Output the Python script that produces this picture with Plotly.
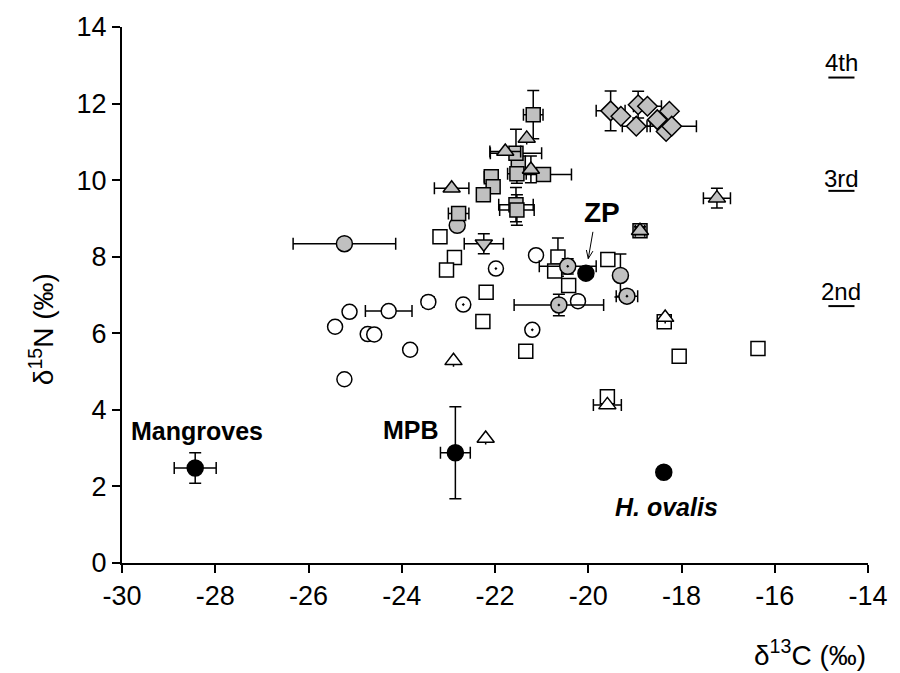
import math
import plotly.graph_objects as go

# ---------------- data ----------------
# open circles
oc_x = [-25.12, -25.43, -24.73, -24.59, -24.28, -25.23, -23.43, -23.82, -21.12, -20.22]
oc_y = [6.56, 6.17, 5.98, 5.97, 6.58, 4.80, 6.82, 5.57, 8.04, 6.84]
oc_ex = [None, None, None, None, 0.5, None, 0.12, None, None, None]
oc_ey = [None, None, None, None, None, None, 0.12, None, None, None]

# open circles with dot
od_x = [-21.98, -22.68, -21.20]
od_y = [7.69, 6.75, 6.09]

# grey circles with dot
gd_x = [-20.44, -20.63, -19.17]
gd_y = [7.75, 6.74, 6.97]
gd_ex = [0.61, 0.96, 0.23]
gd_ey = [0.20, 0.28, 0.15]

# grey circles
gc_x = [-25.23, -22.81, -19.31]
gc_y = [8.34, 8.82, 7.51]
gc_ex = [1.1, None, None]
gc_ey = [0.12, None, 0.56]

# open squares
os_x = [-23.18, -22.87, -23.04, -22.19, -22.26, -21.34, -20.65, -20.72, -20.42, -19.58, -18.37, -18.05, -16.36, -19.59]
os_y = [8.52, 7.98, 7.65, 7.07, 6.31, 5.53, 7.99, 7.63, 7.25, 7.93, 6.30, 5.40, 5.60, 4.34]
os_ey = [None, None, None, None, None, None, 0.5, None, None, None, None, None, None, 0.1]

# grey squares
gs_x = [-18.89, -21.50, -21.53, -20.96, -22.08, -22.04, -22.25, -22.78, -21.55, -21.53, -21.55, -21.18]
gs_y = [8.68, 10.45, 10.17, 10.15, 10.09, 9.83, 9.62, 9.13, 9.36, 9.22, 10.70, 11.71]
gs_ex = [0.1, None, 0.2, 0.6, 0.15, None, None, 0.22, 0.37, 0.37, 0.55, 0.21]
gs_ey = [0.1, None, 0.25, None, None, None, 0.1, None, 0.45, 0.4, 0.63, 0.63]

# grey triangles (up)
gt_x = [-21.32, -21.78, -21.23, -22.93, -18.89, -17.24]
gt_y = [11.09, 10.75, 10.28, 9.79, 8.68, 9.53]
gt_ex = [None, 0.33, None, 0.37, 0.1, 0.29]
gt_ey = [None, None, 0.35, None, 0.1, 0.26]

# grey triangle (down)
gv_x = [-22.24]
gv_y = [8.34]
gv_ex = [0.42]
gv_ey = [0.26]

# open triangles
ot_x = [-22.89, -22.20, -19.59, -18.35]
ot_y = [5.28, 3.25, 4.13, 6.41]
ot_ex = [None, None, 0.3, None]

# grey diamonds
dm_x = [-18.33, -19.52, -19.30, -18.93, -18.73, -18.97, -18.52, -18.26, -18.21]
dm_y = [11.27, 11.81, 11.67, 11.97, 11.93, 11.41, 11.58, 11.80, 11.41]
dm_ex = [None, 0.31, None, None, 0.3, 0.3, None, None, 0.53]
dm_ey = [None, 0.52, None, 0.35, None, None, None, None, None]

# sources (black circles)
src_names = ["Mangroves", "MPB", "H. ovalis", "ZP"]
src_x = [-28.43, -22.85, -18.38, -20.05]
src_y = [2.48, 2.88, 2.37, 7.57]
src_ex = [0.45, 0.32, 0.08, None]
src_ey = [0.40, 1.20, 0.08, None]

x_ticks = [-30, -28, -26, -24, -22, -20, -18, -16, -14]
y_ticks = [0, 2, 4, 6, 8, 10, 12, 14]
levels = ["4th", "3rd", "2nd"]
level_y = [13.08, 10.04, 7.08]
level_line_y = [12.68, 9.72, 6.71]

GREY = "#C0C0C0"
FONT = "Liberation Sans, Arial, sans-serif"

W, H = 900, 673
ML, MR, MT, MB = 122, 20, 17, 110
XR = [-30, -14]
YR = [0, 14]
PX_X = (W - ML - MR) / (XR[1] - XR[0])
PX_Y = (H - MT - MB) / (YR[1] - YR[0])

fig = go.Figure()


def add(xs, ys, symbol, size, fill, ex=None, ey=None, lw=1.5):
    kw = {}
    if ex is not None:
        kw["error_x"] = dict(type="data", array=ex, symmetric=True, color="black", thickness=1.5, width=6)
    if ey is not None:
        kw["error_y"] = dict(type="data", array=ey, symmetric=True, color="black", thickness=1.5, width=6)
    fig.add_trace(go.Scatter(
        x=xs, y=ys, mode="markers",
        marker=dict(symbol=symbol, size=size, color=fill, line=dict(color="black", width=lw)),
        showlegend=False, hoverinfo="skip", **kw))


add(oc_x, oc_y, "circle", 15, "white", oc_ex, oc_ey)
add(od_x, od_y, "circle-dot", 15, "white")
add(os_x, os_y, "square", 14, "white", None, os_ey)
add(ot_x, ot_y, "triangle-up", 15, "white", ot_ex, None)
add(gc_x, gc_y, "circle", 16, GREY, gc_ex, gc_ey)
add(gd_x, gd_y, "circle-dot", 16, GREY, gd_ex, gd_ey)
add(gs_x, gs_y, "square", 14, GREY, gs_ex, gs_ey)
add(gt_x, gt_y, "triangle-up", 15, GREY, gt_ex, gt_ey)
add(gv_x, gv_y, "triangle-down", 15, GREY, gv_ex, gv_ey)
add(dm_x, dm_y, "diamond", 15, GREY, dm_ex, dm_ey)
add(src_x, src_y, "circle", 16, "black", src_ex, src_ey)

ann = []
ann.append(dict(x=-29.84, y=3.44, text="<b>Mangroves</b>", xanchor="left", yanchor="middle",
                showarrow=False, font=dict(family=FONT, size=25, color="black")))
ann.append(dict(x=-23.16, y=3.48, text="<b>MPB</b>", xanchor="right", yanchor="middle",
                showarrow=False, font=dict(family=FONT, size=25, color="black")))
ann.append(dict(x=-19.46, y=1.46, text="<b><i>H. ovalis</i></b>", xanchor="left", yanchor="middle",
                showarrow=False, font=dict(family=FONT, size=25, color="black")))
ann.append(dict(x=-19.70, y=9.15, text="<b>ZP</b>", xanchor="center", yanchor="middle",
                showarrow=False, font=dict(family=FONT, size=28, color="black")))
for t, yy in zip(levels, level_y):
    ann.append(dict(x=-14.57, y=yy, text=t, xanchor="center", yanchor="middle", showarrow=False,
                    font=dict(family=FONT, size=24, color="black")))
ann.append(dict(x=1.0, y=-0.168, xref="paper", yref="paper", text="δ<sup>13</sup>C (‰)",
                xanchor="right", yanchor="middle", showarrow=False,
                font=dict(family=FONT, size=28, color="black")))
ann.append(dict(x=-0.108, y=0.437, xref="paper", yref="paper", text="δ<sup>15</sup>N (‰)",
                textangle=-90, xanchor="center", yanchor="middle", showarrow=False,
                font=dict(family=FONT, size=28, color="black")))

shapes = []
for ly in level_line_y:
    shapes.append(dict(type="line", x0=-14.85, x1=-14.29, y0=ly, y1=ly, xref="x", yref="y",
                       line=dict(color="black", width=2)))

# ZP arrow (tail -> tip) drawn as lines
tail = (-19.9, 8.65)
tip = (-20.0, 7.95)
shapes.append(dict(type="line", x0=tail[0], y0=tail[1], x1=tip[0], y1=tip[1], xref="x", yref="y",
                   line=dict(color="black", width=1)))
dxp = (tip[0] - tail[0]) * PX_X
dyp = (tip[1] - tail[1]) * PX_Y
ang = math.atan2(dyp, dxp)
for s in (+1, -1):
    a = ang + math.pi + s * math.radians(22)
    hx = tip[0] + 9 * math.cos(a) / PX_X
    hy = tip[1] + 9 * math.sin(a) / PX_Y
    shapes.append(dict(type="line", x0=tip[0], y0=tip[1], x1=hx, y1=hy, xref="x", yref="y",
                       line=dict(color="black", width=1)))

fig.update_layout(
    width=W, height=H,
    margin=dict(l=ML, r=MR, t=MT, b=MB),
    paper_bgcolor="white", plot_bgcolor="white",
    annotations=ann, shapes=shapes,
    xaxis=dict(range=XR, tickvals=x_ticks, ticktext=[str(v) for v in x_ticks],
               showgrid=False, zeroline=False, showline=True, linecolor="black", linewidth=2,
               ticks="outside", ticklen=8, tickwidth=1.5, tickcolor="black",
               tickfont=dict(family=FONT, size=27, color="black")),
    yaxis=dict(range=YR, tickvals=y_ticks, showgrid=False, zeroline=False, showline=True,
               linecolor="black", linewidth=2, ticks="outside", ticklen=8, tickwidth=1.5,
               tickcolor="black", tickfont=dict(family=FONT, size=27, color="black")),
)

fig.write_html("out.html")
